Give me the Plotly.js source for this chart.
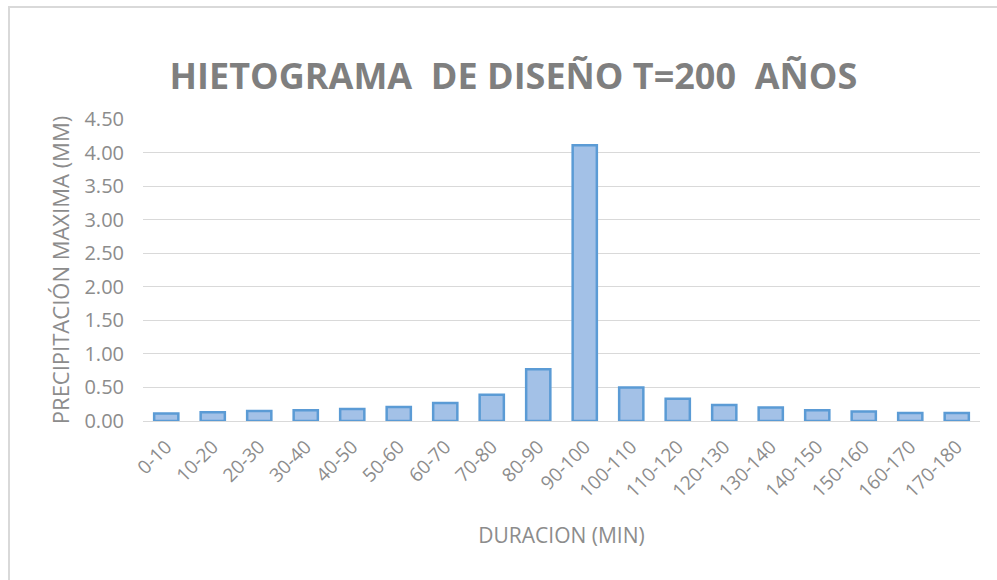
<!DOCTYPE html>
<html>
<head>
<meta charset="utf-8">
<script src="https://cdn.plot.ly/plotly-3.0.1.min.js"></script>
<style>
  html, body { margin: 0; padding: 0; background: #fff; }
  #frame { position: absolute; left: 8px; top: 6px; width: 1000px; height: 600px; border: 2px solid #d9d9d9; box-sizing: border-box; pointer-events: none; }
  #chart { position: absolute; left: 0; top: 0; width: 997px; height: 580px; }
</style>
</head>
<body>
<div id="chart"></div>
<div id="frame"></div>
<script>
const categories = ["0-10","10-20","20-30","30-40","40-50","50-60","60-70","70-80","80-90","90-100",
                    "100-110","110-120","120-130","130-140","140-150","150-160","160-170","170-180"];
const precipitation = [0.11, 0.13, 0.15, 0.16, 0.18, 0.21, 0.27, 0.39, 0.77, 4.11,
                       0.50, 0.33, 0.24, 0.20, 0.16, 0.14, 0.12, 0.12];
const yTicks = [0, 0.5, 1, 1.5, 2, 2.5, 3, 3.5, 4, 4.5];

const trace = {
  type: 'bar',
  x: categories,
  y: precipitation,
  marker: { color: '#a3c1e7', line: { color: '#5b9bd5', width: 2.5 } },
  hoverinfo: 'x+y'
};

const layout = {
  width: 997, height: 580,
  margin: { l: 143, r: 17, t: 119, b: 159 },
  paper_bgcolor: '#ffffff', plot_bgcolor: '#ffffff',
  bargap: 0.48,
  showlegend: false,
  title: {
    text: 'HIETOGRAMA  DE DISEÑO T=200  AÑOS',
    font: { family: 'Open Sans, sans-serif', size: 36, color: '#7f7f7f', weight: 700 },
    x: 0.515, xanchor: 'center', y: 0.868, yanchor: 'middle'
  },
  xaxis: {
    type: 'category',
    tickangle: -45,
    tickfont: { family: 'Open Sans, sans-serif', size: 19, color: '#8c8c8c' },
    ticklabelstandoff: 10,
    showgrid: false, ticks: '', showline: false, zeroline: false,
    title: { text: 'DURACION (MIN)', font: { family: 'Open Sans, sans-serif', size: 21, color: '#8c8c8c' }, standoff: 26 }
  },
  yaxis: {
    range: [0, 4.5],
    tickvals: yTicks,
    tickformat: '.2f',
    tickfont: { family: 'Open Sans, sans-serif', size: 20, color: '#8c8c8c' },
    ticklabelstandoff: 18,
    gridcolor: '#d9d9d9', gridwidth: 1,
    zeroline: true, zerolinecolor: '#d9d9d9', zerolinewidth: 1,
    showline: false, ticks: '', ticklen: 0,
    title: { text: 'PRECIPITACIÓN MAXIMA (MM)', font: { family: 'Open Sans, sans-serif', size: 22, color: '#8c8c8c' }, standoff: 8 }
  }
};

Plotly.newPlot('chart', [trace], layout, { displayModeBar: false, staticPlot: true });
</script>
</body>
</html>
